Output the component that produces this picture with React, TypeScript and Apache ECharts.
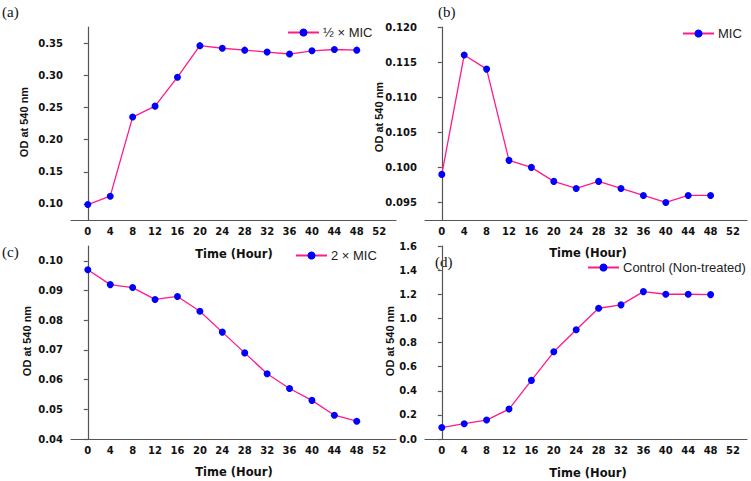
import React, { useEffect, useRef } from "react";
import * as echarts from "echarts";

const hours = [0, 4, 8, 12, 16, 20, 24, 28, 32, 36, 40, 44, 48];
const xTicks = [0, 4, 8, 12, 16, 20, 24, 28, 32, 36, 40, 44, 48, 52];

const halfMIC = [0.099, 0.112, 0.235, 0.252, 0.297, 0.346, 0.342, 0.339, 0.336, 0.333, 0.338, 0.340, 0.339];
const mic = [0.099, 0.116, 0.114, 0.101, 0.100, 0.098, 0.097, 0.098, 0.097, 0.096, 0.095, 0.096, 0.096];
const twoMIC = [0.097, 0.092, 0.091, 0.087, 0.088, 0.083, 0.076, 0.069, 0.062, 0.057, 0.053, 0.048, 0.046];
const control = [0.095, 0.127, 0.157, 0.248, 0.486, 0.723, 0.905, 1.084, 1.112, 1.222, 1.200, 1.200, 1.197];

const yTicksA = [0.10, 0.15, 0.20, 0.25, 0.30, 0.35];
const yTicksB = [0.095, 0.100, 0.105, 0.110, 0.115, 0.120];
const yTicksC = [0.04, 0.05, 0.06, 0.07, 0.08, 0.09, 0.10];
const yTicksD = [0.0, 0.2, 0.4, 0.6, 0.8, 1.0, 1.2, 1.4, 1.6];

const seriesNames = ["½ × MIC", "MIC", "2 × MIC", "Control (Non-treated)"];
const panelLetters = ["(a)", "(b)", "(c)", "(d)"];
const xTitle = "Time (Hour)";
const yTitle = "OD at 540 nm";

export default function App() {
  const ref = useRef<HTMLDivElement>(null);
  useEffect(() => {
    if (!ref.current) return;
    const chart = echarts.init(ref.current, undefined, { renderer: "svg" });

    const grids = [
      { left: 71, top: 27, width: 325, height: 193 },
      { left: 425, top: 27, width: 322, height: 193 },
      { left: 71, top: 246, width: 325, height: 193 },
      { left: 425, top: 246, width: 322, height: 193 },
    ];
    const xMax = [55, 54.5, 55, 54.5];
    const yCfg = [
      { min: 0.075, max: 0.375, ticks: yTicksA, dec: 2 },
      { min: 0.0925, max: 0.12, ticks: yTicksB, dec: 3 },
      { min: 0.04, max: 0.105, ticks: yTicksC, dec: 2 },
      { min: 0, max: 1.6, ticks: yTicksD, dec: 1 },
    ];
    const values = [halfMIC, mic, twoMIC, control];

    const axisLine = { show: true, lineStyle: { color: "#555", width: 1.2 } };
    const tickFont = {
      fontFamily: "DejaVu Sans",
      fontWeight: "bold" as const,
      fontSize: 10,
      color: "#111",
    };

    const xAxis = grids.map((_, i) => ({
      type: "value",
      gridIndex: i,
      min: -3,
      max: xMax[i],
      axisLine,
      axisTick: { show: false },
      splitLine: { show: false },
      axisLabel: {
        ...tickFont,
        margin: 6,
        customValues: xTicks,
        formatter: (v: number) => String(v),
      },
    }));

    const yAxis = grids.map((_, i) => ({
      type: "value",
      gridIndex: i,
      min: yCfg[i].min,
      max: yCfg[i].max,
      axisLine,
      axisTick: {
        show: true,
        length: 4,
        lineStyle: { color: "#555", width: 1.2 },
        customValues: yCfg[i].ticks,
      },
      splitLine: { show: false },
      axisLabel: {
        ...tickFont,
        margin: 8,
        customValues: yCfg[i].ticks,
        formatter: (v: number) => v.toFixed(yCfg[i].dec),
      },
    }));

    const series = values.map((vals, i) => ({
      name: seriesNames[i],
      type: "line",
      xAxisIndex: i,
      yAxisIndex: i,
      data: hours.map((h, k) => [h, vals[k]]),
      symbol: "circle",
      symbolSize: 7,
      lineStyle: { color: "#ff1a8c", width: 1.3 },
      itemStyle: { color: "#0000ff" },
    }));

    const legendPos = [
      { left: 287, top: 26 },
      { left: 682, top: 27 },
      { left: 295, top: 249 },
      { left: 587, top: 261 },
    ];
    const legend = seriesNames.map((n, i) => ({
      data: [n],
      left: legendPos[i].left,
      top: legendPos[i].top,
      padding: 0,
      itemWidth: 31,
      itemHeight: 10,
      itemGap: 4,
      textStyle: { fontFamily: "Liberation Sans", fontSize: 13, color: "#222", padding: [0, 0, 0, -1] },
    }));

    const letterPos = [
      [2, 12],
      [438, 12],
      [2, 252],
      [435, 262],
    ];
    const xTitlePos = [
      [234, 254],
      [588, 253],
      [234, 472],
      [588, 473],
    ];
    const yTitlePos = [
      [24, 122],
      [379, 117],
      [27, 341],
      [390, 341],
    ];

    const graphic: any[] = [];
    panelLetters.forEach((t, i) => {
      graphic.push({
        type: "text",
        x: letterPos[i][0],
        y: letterPos[i][1],
        style: {
          text: t,
          fontFamily: "Liberation Serif",
          fontSize: 15,
          fill: "#111",
          textAlign: "left",
          textVerticalAlign: "middle",
        },
      });
      graphic.push({
        type: "text",
        x: xTitlePos[i][0],
        y: xTitlePos[i][1],
        style: {
          text: xTitle,
          fontFamily: "DejaVu Sans",
          fontWeight: "bold",
          fontSize: 11.5,
          fill: "#111",
          textAlign: "center",
          textVerticalAlign: "middle",
        },
      });
      graphic.push({
        type: "text",
        x: yTitlePos[i][0],
        y: yTitlePos[i][1],
        rotation: Math.PI / 2,
        style: {
          text: yTitle,
          fontFamily: "Liberation Sans",
          fontWeight: "bold",
          fontSize: 11,
          fill: "#111",
          textAlign: "center",
          textVerticalAlign: "middle",
        },
      });
    });

    chart.setOption({
      animation: false,
      backgroundColor: "#fff",
      grid: grids,
      xAxis,
      yAxis,
      series,
      legend,
      graphic,
    } as any);

    return () => chart.dispose();
  }, []);

  return (
    <div
      ref={ref}
      style={{ position: "absolute", left: 0, top: 0, width: 751, height: 481 }}
    />
  );
}
